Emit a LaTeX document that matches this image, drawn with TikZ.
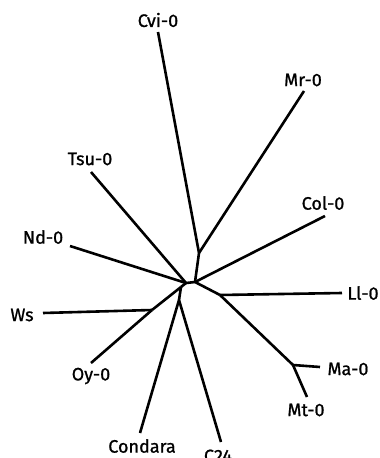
\documentclass[tikz,border=0pt]{standalone}
\usepackage{fontspec}
\setmainfont{Fira Sans}[FakeBold=1]
\usetikzlibrary{positioning}

\begin{document}
\begin{tikzpicture}[x=1pt, y=-1pt, line width=2.6pt,
		every node/.style={font=\fontsize{18}{20}\selectfont, inner sep=0pt}]
			\clip (0, 0) rectangle (380, 458);
			% inner nodes of the tree
			\coordinate (root) at (186, 283);
			\coordinate (nr) at (195, 282);
			\coordinate (nl) at (181, 287);
			\coordinate (nup) at (199, 253);
			\coordinate (nll) at (220, 295);
			\coordinate (nma) at (293, 365);
			\coordinate (nws) at (152, 310);
			\coordinate (nco) at (179, 300);
			% leaf ends
			\foreach \n/\x/\y in {cvi/158/32, mr/304/91, tsu/91/172, col/325/216, nd/70/246,
				ws/43/313, ll/342/293, ma/320/367, mt/307/397, oy/91/363, cond/140/433, c/221/442}
				\coordinate (e\n) at (\x, \y);
			% labels
			\node (lcvi) at (158, 20) {Cvi-0};
			\node (lmr) at (303, 80) {Mr-0};
			\node (ltsu) at (90, 159) {Tsu-0};
			\node (lcol) at (323, 203) {Col-0};
			\node (lnd) at (43, 237) {Nd-0};
			\node (lws) at (22, 315) {Ws};
			\node (lll) at (363, 293) {Ll-0};
			\node (lma) at (348, 369) {Ma-0};
			\node (lmt) at (306, 410) {Mt-0};
			\node (loy) at (91, 376) {Oy-0};
			\node (lcond) at (142, 446) {Condara};
			\node (lc) at (218, 456) {C24};
			% branches
			\foreach \a/\b in {root/nr, root/nl, root/etsu, root/end, nr/nup, nr/ecol, nr/nll,
				nup/ecvi, nup/emr, nll/ell, nll/nma, nma/ema, nma/emt, nl/nws, nl/nco,
				nws/ews, nws/eoy, nco/econd, nco/ec}
				\draw (\a) -- (\b);
		\end{tikzpicture}
\end{document}
